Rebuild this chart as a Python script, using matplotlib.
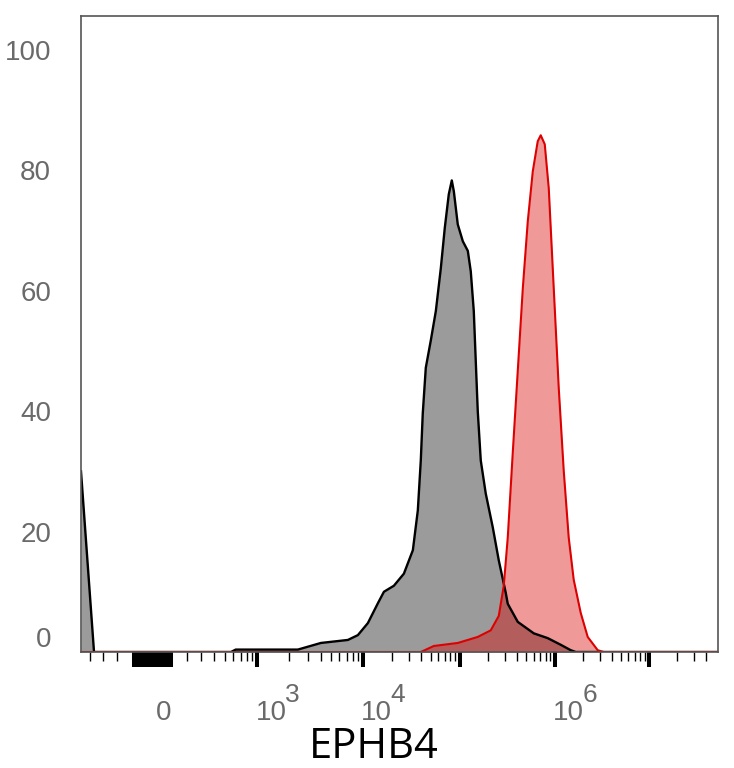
import numpy as np
import matplotlib
matplotlib.use("Agg")
import matplotlib.pyplot as plt

plt.rcParams['font.family'] = ['Liberation Sans', 'DejaVu Sans']

# biexponential-like display axis: value -> position (pixels from zero)
anchor_vals = np.array([0, 100, 200, 300, 400, 1e3, 1e4, 1e5, 1e6, 1e7, 1e8, 1e9])
anchor_pos = np.array([0, 18.3, 35, 49, 62, 105, 210.5, 307.5, 402.5, 497, 591, 685])

# histogram of the unstained control (grey) and EPHB4 stain (red)
ctrl_x = [-490, -370, 570, 630, 2420, 4000, 7210, 8970, 11270, 14300, 16500,
          20900, 26500, 32800, 36900, 39600, 41500, 44600, 50200, 56600,
          63700, 70000, 77000, 82700, 86800, 95300, 107600, 121500, 130500,
          140400, 147300, 154600, 166300, 187700, 222500, 257500, 305000,
          320000, 408000, 601000, 844000, 1.157e6, 1.476e6, 1.67e6, 5.4e7]
ctrl_y = [30, 0, 0, 0.4, 0.4, 1.5, 2, 2.8, 4.8, 8.1, 10,
          11, 13, 16.9, 23.5, 31.8, 39.6, 47.2, 51.7, 56.6,
          63.7, 70.4, 76, 78.3, 76.5, 71, 68.2, 66.6, 63.2,
          56.6, 48.3, 40, 31.8, 26.3, 20.7, 15.2, 9.8,
          8, 5, 3.1, 2.3, 1.2, 0.3, 0, 0]

ephb4_x = [-490, 39600, 54000, 95300, 154600, 212000, 257500, 290500, 320000,
           361000, 408000, 461000, 520000, 587000, 662000, 712000, 785000,
           865000, 976000, 1.102e6, 1.245e6, 1.406e6, 1.588e6, 1.884e6,
           2.234e6, 2.851e6, 3.3e6, 5.4e7]
ephb4_y = [0, 0, 1, 1.5, 2.5, 3.6, 6, 11, 19,
           33, 46.7, 60.4, 71.5, 79.8, 84.8, 85.8, 84.3,
           77, 60.4, 43.9, 30.1, 19, 12, 6.5,
           2.5, 0.3, 0, 0]

y_ticks = [0, 20, 40, 60, 80, 100]
decades = [1e3, 1e4, 1e5, 1e6, 1e7]
labelled = [(0, None), (1e3, '3'), (1e4, '4'), (1e6, '6')]

U = np.arcsinh(np.concatenate([-anchor_vals[:0:-1], anchor_vals]) / 50.0)
P = np.concatenate([-anchor_pos[:0:-1], anchor_pos])


def fwd(v):
    u = np.arcsinh(np.asarray(v, dtype=float) / 50.0)
    return np.interp(u, U, P)


def inv(p):
    u = np.interp(np.asarray(p, dtype=float), P, U)
    return 50.0 * np.sinh(u)


fig = plt.figure(figsize=(7.34, 7.68), dpi=100)
ax = fig.add_axes([81 / 734, 116 / 768, 637 / 734, 636 / 768])
ax.set_xscale('function', functions=(fwd, inv))
ax.set_xlim(-490, 5.4e7)
ax.set_ylim(0, 105.6)

ax.fill_between(ctrl_x, ctrl_y, 0, color='#9b9b9b', lw=0)
ax.plot(ctrl_x, ctrl_y, color='black', lw=1.7)
ax.fill_between(ephb4_x, ephb4_y, 0, color=(0.85, 0, 0), alpha=0.4, lw=0)
ax.plot(ephb4_x, ephb4_y, color='#dd0000', lw=1.5)

# ticks
block = list(range(-100, 101, 10))
minor = [-400, -300, -200] + list(range(200, 1000, 100))
for n in range(3, 7):
    minor += [k * 10 ** n for k in range(2, 10)]
minor += [2e7, 3e7, 4e7]
ax.set_xticks(decades + block)
ax.set_xticks(minor, minor=True)
ax.tick_params(axis='x', which='major', length=11, width=2.9, color='black',
               labelbottom=False)
ax.tick_params(axis='x', which='minor', length=6.5, width=1.0, color='black')

ax.set_yticks(y_ticks, labels=[''] + [str(t) for t in y_ticks[1:]])
ax.tick_params(axis='y', length=0, pad=21.5, labelsize=20, labelcolor='#6a6a6a')
ax.annotate('0', xy=(0, 0), xycoords=('axes fraction', 'data'),
            xytext=(-30, 12), textcoords='offset pixels', ha='right',
            va='center', fontsize=20, color='#6a6a6a')

for val, exp in labelled:
    if exp is None:
        ax.annotate('0', xy=(val, 0), xycoords=('data', 'axes fraction'),
                    xytext=(3, -68), textcoords='offset pixels', ha='left',
                    va='baseline', fontsize=20, color='#6a6a6a')
        continue
    ax.annotate('10', xy=(val, 0), xycoords=('data', 'axes fraction'),
                xytext=(-2, -68), textcoords='offset pixels', ha='left',
                va='baseline', fontsize=20, color='#6a6a6a')
    ax.annotate(exp, xy=(val, 0), xycoords=('data', 'axes fraction'),
                xytext=(28, -50), textcoords='offset pixels', ha='left',
                va='baseline', fontsize=19, color='#6a6a6a')

for s in ax.spines.values():
    s.set_color('#555555')
    s.set_linewidth(1.2)

fig.text(373.5 / 734, 1 - 758 / 768, 'EPHB4', ha='center', va='baseline',
         fontsize=30, family='Open Sans', color='black')

fig.savefig('out.png', dpi=100)
